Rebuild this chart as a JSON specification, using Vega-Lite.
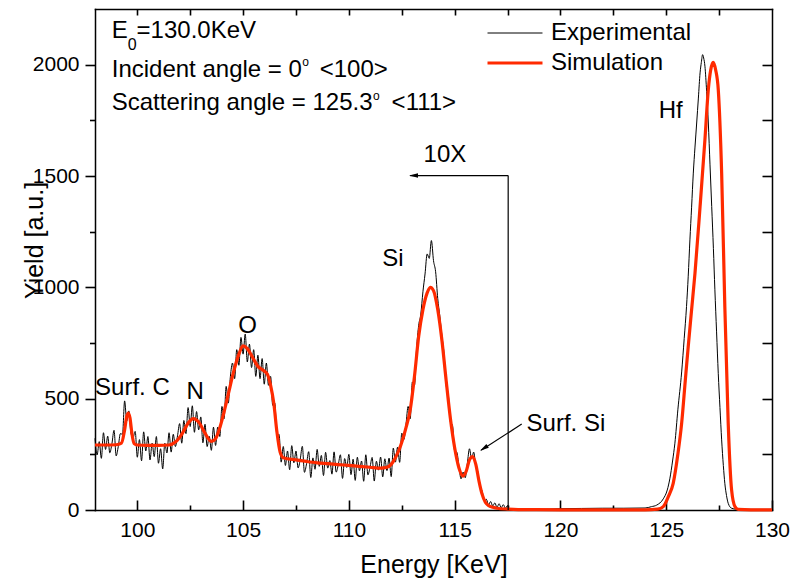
{
  "$schema": "https://vega.github.io/schema/vega-lite/v6.json",
  "width": 677,
  "height": 501,
  "autosize": {"type": "none"},
  "padding": {"left": 95, "top": 9, "right": 29, "bottom": 74},
  "background": "white",
  "config": {
    "view": {"stroke": null},
    "font": "Liberation Sans",
    "axis": {"grid": false, "domainColor": "black", "tickColor": "black", "labelColor": "black", "titleColor": "black", "domainWidth": 1.5, "tickWidth": 1.6, "domainCap": "square", "labelFontSize": 21, "titleFontSize": 25, "titleFontWeight": "normal", "labelFlush": false, "labelOverlap": false, "labelFont": "Liberation Sans", "titleFont": "Liberation Sans"},
    "text": {"font": "Liberation Sans", "color": "black"}
  },
  "datasets": {
    "curves": [
      {"s":"Experimental","e":98.0,"y":322},{"s":"Experimental","e":98.1,"y":247},{"s":"Experimental","e":98.2,"y":307},{"s":"Experimental","e":98.3,"y":232},{"s":"Experimental","e":98.4,"y":347},{"s":"Experimental","e":98.5,"y":272},{"s":"Experimental","e":98.6,"y":332},{"s":"Experimental","e":98.7,"y":257},{"s":"Experimental","e":98.8,"y":298},{"s":"Experimental","e":98.9,"y":358},
      {"s":"Experimental","e":99.0,"y":243},{"s":"Experimental","e":99.1,"y":285},{"s":"Experimental","e":99.2,"y":343},{"s":"Experimental","e":99.3,"y":340},{"s":"Experimental","e":99.4,"y":490},{"s":"Experimental","e":99.5,"y":400},{"s":"Experimental","e":99.6,"y":445},{"s":"Experimental","e":99.7,"y":345},{"s":"Experimental","e":99.8,"y":325},{"s":"Experimental","e":99.9,"y":353},
      {"s":"Experimental","e":100.0,"y":237},{"s":"Experimental","e":100.1,"y":316},{"s":"Experimental","e":100.2,"y":221},{"s":"Experimental","e":100.3,"y":351},{"s":"Experimental","e":100.4,"y":265},{"s":"Experimental","e":100.5,"y":330},{"s":"Experimental","e":100.6,"y":225},{"s":"Experimental","e":100.7,"y":300},{"s":"Experimental","e":100.8,"y":240},{"s":"Experimental","e":100.9,"y":330},
      {"s":"Experimental","e":101.0,"y":210},{"s":"Experimental","e":101.1,"y":275},{"s":"Experimental","e":101.2,"y":185},{"s":"Experimental","e":101.3,"y":300},{"s":"Experimental","e":101.4,"y":256},{"s":"Experimental","e":101.5,"y":347},{"s":"Experimental","e":101.6,"y":260},{"s":"Experimental","e":101.7,"y":340},{"s":"Experimental","e":101.8,"y":285},{"s":"Experimental","e":101.9,"y":333},
      {"s":"Experimental","e":102.0,"y":388},{"s":"Experimental","e":102.1,"y":300},{"s":"Experimental","e":102.2,"y":402},{"s":"Experimental","e":102.3,"y":343},{"s":"Experimental","e":102.4,"y":460},{"s":"Experimental","e":102.5,"y":375},{"s":"Experimental","e":102.6,"y":468},{"s":"Experimental","e":102.7,"y":349},{"s":"Experimental","e":102.8,"y":442},{"s":"Experimental","e":102.9,"y":360},
      {"s":"Experimental","e":103.0,"y":418},{"s":"Experimental","e":103.1,"y":302},{"s":"Experimental","e":103.2,"y":385},{"s":"Experimental","e":103.3,"y":285},{"s":"Experimental","e":103.4,"y":331},{"s":"Experimental","e":103.5,"y":268},{"s":"Experimental","e":103.6,"y":372},{"s":"Experimental","e":103.7,"y":290},{"s":"Experimental","e":103.8,"y":372},{"s":"Experimental","e":103.9,"y":330},
      {"s":"Experimental","e":104.0,"y":465},{"s":"Experimental","e":104.1,"y":410},{"s":"Experimental","e":104.2,"y":555},{"s":"Experimental","e":104.3,"y":480},{"s":"Experimental","e":104.4,"y":600},{"s":"Experimental","e":104.5,"y":660},{"s":"Experimental","e":104.6,"y":590},{"s":"Experimental","e":104.7,"y":720},{"s":"Experimental","e":104.8,"y":650},{"s":"Experimental","e":104.9,"y":775},
      {"s":"Experimental","e":105.0,"y":700},{"s":"Experimental","e":105.1,"y":790},{"s":"Experimental","e":105.2,"y":665},{"s":"Experimental","e":105.3,"y":745},{"s":"Experimental","e":105.4,"y":640},{"s":"Experimental","e":105.5,"y":720},{"s":"Experimental","e":105.6,"y":600},{"s":"Experimental","e":105.7,"y":695},{"s":"Experimental","e":105.8,"y":590},{"s":"Experimental","e":105.9,"y":680},
      {"s":"Experimental","e":106.0,"y":565},{"s":"Experimental","e":106.1,"y":660},{"s":"Experimental","e":106.2,"y":560},{"s":"Experimental","e":106.3,"y":600},{"s":"Experimental","e":106.4,"y":470},{"s":"Experimental","e":106.5,"y":480},{"s":"Experimental","e":106.6,"y":330},{"s":"Experimental","e":106.7,"y":340},{"s":"Experimental","e":106.8,"y":215},{"s":"Experimental","e":106.9,"y":285},
      {"s":"Experimental","e":107.0,"y":200},{"s":"Experimental","e":107.1,"y":265},{"s":"Experimental","e":107.2,"y":181},{"s":"Experimental","e":107.3,"y":289},{"s":"Experimental","e":107.4,"y":212},{"s":"Experimental","e":107.5,"y":265},{"s":"Experimental","e":107.6,"y":189},{"s":"Experimental","e":107.7,"y":227},{"s":"Experimental","e":107.8,"y":286},{"s":"Experimental","e":107.9,"y":169},
      {"s":"Experimental","e":108.0,"y":208},{"s":"Experimental","e":108.1,"y":262},{"s":"Experimental","e":108.2,"y":146},{"s":"Experimental","e":108.3,"y":234},{"s":"Experimental","e":108.4,"y":183},{"s":"Experimental","e":108.5,"y":272},{"s":"Experimental","e":108.6,"y":196},{"s":"Experimental","e":108.7,"y":245},{"s":"Experimental","e":108.8,"y":155},{"s":"Experimental","e":108.9,"y":259},
      {"s":"Experimental","e":109.0,"y":188},{"s":"Experimental","e":109.1,"y":222},{"s":"Experimental","e":109.2,"y":161},{"s":"Experimental","e":109.3,"y":261},{"s":"Experimental","e":109.4,"y":170},{"s":"Experimental","e":109.5,"y":204},{"s":"Experimental","e":109.6,"y":248},{"s":"Experimental","e":109.7,"y":142},{"s":"Experimental","e":109.8,"y":231},{"s":"Experimental","e":109.9,"y":191},
      {"s":"Experimental","e":110.0,"y":250},{"s":"Experimental","e":110.1,"y":159},{"s":"Experimental","e":110.2,"y":228},{"s":"Experimental","e":110.3,"y":133},{"s":"Experimental","e":110.4,"y":237},{"s":"Experimental","e":110.5,"y":176},{"s":"Experimental","e":110.6,"y":220},{"s":"Experimental","e":110.7,"y":129},{"s":"Experimental","e":110.8,"y":248},{"s":"Experimental","e":110.9,"y":158},
      {"s":"Experimental","e":111.0,"y":192},{"s":"Experimental","e":111.1,"y":236},{"s":"Experimental","e":111.2,"y":130},{"s":"Experimental","e":111.3,"y":219},{"s":"Experimental","e":111.4,"y":179},{"s":"Experimental","e":111.5,"y":238},{"s":"Experimental","e":111.6,"y":149},{"s":"Experimental","e":111.7,"y":230},{"s":"Experimental","e":111.8,"y":177},{"s":"Experimental","e":111.9,"y":233},
      {"s":"Experimental","e":112.0,"y":150},{"s":"Experimental","e":112.1,"y":278},{"s":"Experimental","e":112.2,"y":215},{"s":"Experimental","e":112.3,"y":282},{"s":"Experimental","e":112.4,"y":214},{"s":"Experimental","e":112.5,"y":345},{"s":"Experimental","e":112.6,"y":317},{"s":"Experimental","e":112.7,"y":385},{"s":"Experimental","e":112.8,"y":465},{"s":"Experimental","e":112.9,"y":410},
      {"s":"Experimental","e":113.0,"y":575},{"s":"Experimental","e":113.1,"y":560},{"s":"Experimental","e":113.2,"y":725},{"s":"Experimental","e":113.3,"y":830},{"s":"Experimental","e":113.4,"y":880},{"s":"Experimental","e":113.5,"y":980},{"s":"Experimental","e":113.6,"y":1060},{"s":"Experimental","e":113.7,"y":1150},{"s":"Experimental","e":113.8,"y":1130},{"s":"Experimental","e":113.9,"y":1210},
      {"s":"Experimental","e":114.0,"y":1120},{"s":"Experimental","e":114.1,"y":1070},{"s":"Experimental","e":114.2,"y":950},{"s":"Experimental","e":114.3,"y":870},{"s":"Experimental","e":114.4,"y":780},{"s":"Experimental","e":114.5,"y":700},{"s":"Experimental","e":114.6,"y":560},{"s":"Experimental","e":114.7,"y":520},{"s":"Experimental","e":114.8,"y":395},{"s":"Experimental","e":114.9,"y":380},
      {"s":"Experimental","e":115.0,"y":265},{"s":"Experimental","e":115.1,"y":260},{"s":"Experimental","e":115.2,"y":200},{"s":"Experimental","e":115.3,"y":140},{"s":"Experimental","e":115.4,"y":170},{"s":"Experimental","e":115.5,"y":145},{"s":"Experimental","e":115.6,"y":210},{"s":"Experimental","e":115.7,"y":275},{"s":"Experimental","e":115.8,"y":230},{"s":"Experimental","e":115.9,"y":260},
      {"s":"Experimental","e":116.0,"y":195},{"s":"Experimental","e":116.1,"y":170},{"s":"Experimental","e":116.2,"y":100},{"s":"Experimental","e":116.3,"y":85},{"s":"Experimental","e":116.4,"y":40},{"s":"Experimental","e":116.5,"y":48},{"s":"Experimental","e":116.6,"y":22},{"s":"Experimental","e":116.7,"y":38},{"s":"Experimental","e":116.8,"y":18},{"s":"Experimental","e":116.9,"y":32},
      {"s":"Experimental","e":117.0,"y":12},{"s":"Experimental","e":117.1,"y":28},{"s":"Experimental","e":117.2,"y":10},{"s":"Experimental","e":117.3,"y":24},{"s":"Experimental","e":117.4,"y":8},{"s":"Experimental","e":117.5,"y":20},{"s":"Experimental","e":117.55,"y":3},
      {"s":"Experimental","e":118,"y":3},{"s":"Experimental","e":119,"y":3},{"s":"Experimental","e":120,"y":6},{"s":"Experimental","e":121,"y":7},{"s":"Experimental","e":122,"y":8},{"s":"Experimental","e":123,"y":8},{"s":"Experimental","e":124,"y":9},{"s":"Experimental","e":124.3,"y":15},{"s":"Experimental","e":124.55,"y":22},{"s":"Experimental","e":124.86,"y":50},
      {"s":"Experimental","e":125.05,"y":90},{"s":"Experimental","e":125.17,"y":140},{"s":"Experimental","e":125.3,"y":220},{"s":"Experimental","e":125.41,"y":300},{"s":"Experimental","e":125.55,"y":450},{"s":"Experimental","e":125.73,"y":620},{"s":"Experimental","e":125.85,"y":770},{"s":"Experimental","e":125.96,"y":914},{"s":"Experimental","e":126.04,"y":1050},{"s":"Experimental","e":126.12,"y":1213},
      {"s":"Experimental","e":126.2,"y":1360},{"s":"Experimental","e":126.28,"y":1513},{"s":"Experimental","e":126.36,"y":1630},{"s":"Experimental","e":126.44,"y":1738},{"s":"Experimental","e":126.52,"y":1850},{"s":"Experimental","e":126.6,"y":1963},{"s":"Experimental","e":126.66,"y":2010},{"s":"Experimental","e":126.72,"y":2045},{"s":"Experimental","e":126.77,"y":2030},{"s":"Experimental","e":126.83,"y":1993},
      {"s":"Experimental","e":126.91,"y":1880},{"s":"Experimental","e":126.99,"y":1738},{"s":"Experimental","e":127.07,"y":1550},{"s":"Experimental","e":127.15,"y":1363},{"s":"Experimental","e":127.23,"y":1175},{"s":"Experimental","e":127.3,"y":989},{"s":"Experimental","e":127.38,"y":800},{"s":"Experimental","e":127.46,"y":614},{"s":"Experimental","e":127.54,"y":460},{"s":"Experimental","e":127.62,"y":315},
      {"s":"Experimental","e":127.7,"y":200},{"s":"Experimental","e":127.77,"y":120},{"s":"Experimental","e":127.85,"y":65},{"s":"Experimental","e":127.93,"y":30},{"s":"Experimental","e":128.09,"y":8},{"s":"Experimental","e":128.3,"y":4},{"s":"Experimental","e":129,"y":3},{"s":"Experimental","e":130,"y":3},
      {"s":"Simulation","e":98.0,"y":292},{"s":"Simulation","e":98.5,"y":292},{"s":"Simulation","e":99.0,"y":293},{"s":"Simulation","e":99.25,"y":300},{"s":"Simulation","e":99.4,"y":360},{"s":"Simulation","e":99.5,"y":420},{"s":"Simulation","e":99.57,"y":435},{"s":"Simulation","e":99.65,"y":415},{"s":"Simulation","e":99.75,"y":340},{"s":"Simulation","e":99.85,"y":298},
      {"s":"Simulation","e":100.0,"y":292},{"s":"Simulation","e":100.5,"y":290},{"s":"Simulation","e":101.0,"y":290},{"s":"Simulation","e":101.5,"y":292},{"s":"Simulation","e":101.8,"y":305},{"s":"Simulation","e":102.1,"y":340},{"s":"Simulation","e":102.4,"y":390},{"s":"Simulation","e":102.65,"y":410},{"s":"Simulation","e":102.9,"y":395},{"s":"Simulation","e":103.2,"y":345},
      {"s":"Simulation","e":103.5,"y":308},{"s":"Simulation","e":103.7,"y":320},{"s":"Simulation","e":103.9,"y":370},{"s":"Simulation","e":104.1,"y":440},{"s":"Simulation","e":104.3,"y":520},{"s":"Simulation","e":104.55,"y":620},{"s":"Simulation","e":104.8,"y":700},{"s":"Simulation","e":105.0,"y":737},{"s":"Simulation","e":105.2,"y":725},{"s":"Simulation","e":105.45,"y":685},
      {"s":"Simulation","e":105.7,"y":645},{"s":"Simulation","e":105.95,"y":628},{"s":"Simulation","e":106.15,"y":610},{"s":"Simulation","e":106.3,"y":560},{"s":"Simulation","e":106.45,"y":480},{"s":"Simulation","e":106.6,"y":350},{"s":"Simulation","e":106.75,"y":260},{"s":"Simulation","e":106.9,"y":235},{"s":"Simulation","e":107.5,"y":225},{"s":"Simulation","e":108.0,"y":218},
      {"s":"Simulation","e":108.5,"y":212},{"s":"Simulation","e":109.0,"y":208},{"s":"Simulation","e":109.5,"y":204},{"s":"Simulation","e":110.0,"y":200},{"s":"Simulation","e":110.5,"y":196},{"s":"Simulation","e":111.0,"y":192},{"s":"Simulation","e":111.5,"y":188},{"s":"Simulation","e":111.8,"y":192},{"s":"Simulation","e":112.0,"y":205},{"s":"Simulation","e":112.2,"y":235},
      {"s":"Simulation","e":112.45,"y":290},{"s":"Simulation","e":112.7,"y":370},{"s":"Simulation","e":112.9,"y":450},{"s":"Simulation","e":113.1,"y":600},{"s":"Simulation","e":113.3,"y":780},{"s":"Simulation","e":113.5,"y":900},{"s":"Simulation","e":113.7,"y":975},{"s":"Simulation","e":113.85,"y":1000},{"s":"Simulation","e":114.0,"y":985},{"s":"Simulation","e":114.2,"y":900},
      {"s":"Simulation","e":114.4,"y":760},{"s":"Simulation","e":114.6,"y":580},{"s":"Simulation","e":114.8,"y":410},{"s":"Simulation","e":115.0,"y":280},{"s":"Simulation","e":115.2,"y":190},{"s":"Simulation","e":115.4,"y":152},{"s":"Simulation","e":115.55,"y":175},{"s":"Simulation","e":115.7,"y":225},{"s":"Simulation","e":115.85,"y":240},{"s":"Simulation","e":116.0,"y":205},
      {"s":"Simulation","e":116.15,"y":130},{"s":"Simulation","e":116.3,"y":70},{"s":"Simulation","e":116.45,"y":35},{"s":"Simulation","e":116.6,"y":20},{"s":"Simulation","e":116.8,"y":12},{"s":"Simulation","e":117.0,"y":8},{"s":"Simulation","e":117.5,"y":4},{"s":"Simulation","e":118.0,"y":2},{"s":"Simulation","e":120.0,"y":1},{"s":"Simulation","e":124.0,"y":1},
      {"s":"Simulation","e":124.6,"y":4},{"s":"Simulation","e":124.86,"y":15},{"s":"Simulation","e":125.1,"y":60},{"s":"Simulation","e":125.33,"y":120},{"s":"Simulation","e":125.55,"y":250},{"s":"Simulation","e":125.73,"y":390},{"s":"Simulation","e":125.9,"y":580},{"s":"Simulation","e":126.04,"y":734},{"s":"Simulation","e":126.2,"y":900},{"s":"Simulation","e":126.36,"y":1064},
      {"s":"Simulation","e":126.6,"y":1363},{"s":"Simulation","e":126.83,"y":1663},{"s":"Simulation","e":126.99,"y":1888},{"s":"Simulation","e":127.1,"y":1975},{"s":"Simulation","e":127.22,"y":2010},{"s":"Simulation","e":127.34,"y":1975},{"s":"Simulation","e":127.46,"y":1888},{"s":"Simulation","e":127.62,"y":1513},{"s":"Simulation","e":127.77,"y":914},{"s":"Simulation","e":127.93,"y":390},
      {"s":"Simulation","e":128.09,"y":90},{"s":"Simulation","e":128.25,"y":15},{"s":"Simulation","e":128.4,"y":3},{"s":"Simulation","e":129.0,"y":1},{"s":"Simulation","e":130.0,"y":1}
    ],
    "lines": [
      {"x1": 117.53, "x2": 117.53, "y1": 0, "y2": 1502},
      {"x1": 112.9, "x2": 117.53, "y1": 1502, "y2": 1502},
      {"x1": 118.17, "x2": 116.25, "y1": 386, "y2": 268}
    ],
    "head1": [{"e": 113.055, "y": 1502}],
    "head2": [{"e": 116.378, "y": 277}],
    "textLeft": [
      {"e": 98.79, "y": 2120, "t": "E"},
      {"e": 99.966, "y": 2120, "t": "=130.0KeV"},
      {"e": 98.79, "y": 1946, "t": "Incident angle = 0"},
      {"e": 108.62, "y": 1946, "t": "<100>"},
      {"e": 98.79, "y": 1798, "t": "Scattering angle = 125.3"},
      {"e": 112.02, "y": 1798, "t": "<111>"},
      {"e": 118.4, "y": 355, "t": "Surf. Si"}
    ],
    "textCenter": [
      {"e": 99.77, "y": 517, "t": "Surf. C"},
      {"e": 102.73, "y": 497, "t": "N"},
      {"e": 105.21, "y": 797, "t": "O"},
      {"e": 112.08, "y": 1094, "t": "Si"},
      {"e": 125.21, "y": 1760, "t": "Hf"},
      {"e": 114.54, "y": 1565, "t": "10X"}
    ],
    "textSub": [{"e": 99.546, "y": 2067, "t": "0"}],
    "textSup": [
      {"e": 107.8, "y": 1992, "t": "o"},
      {"e": 111.14, "y": 1843, "t": "o"}
    ]
  },
  "layer": [
    {
      "data": {"name": "curves"},
      "mark": {"type": "line", "interpolate": "monotone"},
      "encoding": {
        "x": {"field": "e", "type": "quantitative", "scale": {"domain": [98, 130], "nice": false, "zero": false},
          "axis": {"orient": "bottom", "values": [100, 105, 110, 115, 120, 125, 130], "tickSize": -10, "labelPadding": 19, "title": "Energy [KeV]", "titleFontSize": 25, "titleY": 62, "titleBaseline": "alphabetic"}},
        "y": {"field": "y", "type": "quantitative", "scale": {"domain": [0, 2250], "nice": false, "zero": false},
          "axis": {"orient": "left", "values": [0, 500, 1000, 1500, 2000], "format": "d", "tickSize": 10, "labelPadding": 6, "title": "Yield [a.u.]", "titleFontSize": 25, "titleX": -61, "titleY": 231, "titleBaseline": "middle", "titleAlign": "center", "titleAngle": -90}},
        "color": {"field": "s", "type": "nominal", "scale": {"domain": ["Experimental", "Simulation"], "range": ["#000000", "#ff2a00"]},
          "legend": {"orient": "none", "legendX": 408, "legendY": 12, "title": null, "symbolType": "M-3,0H3", "symbolSize": 336, "labelFontSize": 24, "labelFont": "Liberation Sans", "labelColor": "black", "labelOffset": 24, "rowPadding": 6, "padding": 0, "labelLimit": 300}},
        "strokeWidth": {"field": "s", "type": "nominal", "scale": {"type": "ordinal", "domain": ["Experimental", "Simulation"], "range": [1, 3.2]},
          "legend": {"orient": "none", "legendX": 408, "legendY": 12, "title": null, "symbolType": "M-3,0H3", "symbolSize": 336, "labelFontSize": 24, "labelFont": "Liberation Sans", "labelColor": "black", "labelOffset": 24, "rowPadding": 6, "padding": 0, "labelLimit": 300}}
      }
    },
    {
      "data": {"name": "head1"},
      "mark": {"type": "point", "opacity": 0},
      "encoding": {
        "x": {"field": "e", "type": "quantitative", "scale": {"domain": [98, 130], "nice": false, "zero": false},
          "axis": {"orient": "bottom", "values": [102.5, 107.5, 112.5, 117.5, 122.5, 127.5], "tickSize": -5, "labels": false, "domain": false, "title": null}},
        "y": {"field": "y", "type": "quantitative", "scale": {"domain": [0, 2250], "nice": false, "zero": false},
          "axis": {"orient": "left", "values": [250, 750, 1250, 1750], "tickSize": 5.5, "labels": false, "domain": false, "title": null}}
      }
    },
    {
      "data": {"name": "head1"},
      "mark": {"type": "point", "opacity": 0},
      "encoding": {
        "x": {"field": "e", "type": "quantitative", "scale": {"domain": [98, 130], "nice": false, "zero": false},
          "axis": {"orient": "top", "values": [100, 102.5, 105, 107.5, 110, 112.5, 115, 117.5, 120, 122.5, 125, 127.5], "tickSize": -6, "labels": false, "title": null}},
        "y": {"field": "y", "type": "quantitative", "scale": {"domain": [0, 2250], "nice": false, "zero": false},
          "axis": {"orient": "right", "values": [250, 500, 750, 1000, 1250, 1500, 1750, 2000], "tickSize": -10, "labels": false, "title": null}}
      }
    },
    {
      "data": {"name": "lines"},
      "mark": {"type": "rule", "color": "black", "strokeWidth": 1.2},
      "encoding": {
        "x": {"field": "x1", "type": "quantitative", "axis": null},
        "x2": {"field": "x2"},
        "y": {"field": "y1", "type": "quantitative", "axis": null},
        "y2": {"field": "y2"}
      }
    },
    {
      "data": {"name": "head1"},
      "mark": {"type": "point", "shape": "M-1,0L1,-0.5L1,0.5Z", "size": 81, "filled": true, "color": "black", "opacity": 1},
      "encoding": {
        "x": {"field": "e", "type": "quantitative", "axis": null},
        "y": {"field": "y", "type": "quantitative", "axis": null}
      }
    },
    {
      "data": {"name": "head2"},
      "mark": {"type": "point", "shape": "M-1,0L1,-0.5L1,0.5Z", "size": 81, "filled": true, "color": "black", "opacity": 1, "angle": 327},
      "encoding": {
        "x": {"field": "e", "type": "quantitative", "axis": null},
        "y": {"field": "y", "type": "quantitative", "axis": null}
      }
    },
    {
      "data": {"name": "textLeft"},
      "mark": {"type": "text", "align": "left", "baseline": "alphabetic", "fontSize": 24},
      "encoding": {
        "x": {"field": "e", "type": "quantitative", "axis": null},
        "y": {"field": "y", "type": "quantitative", "axis": null},
        "text": {"field": "t"}
      }
    },
    {
      "data": {"name": "textCenter"},
      "mark": {"type": "text", "align": "center", "baseline": "alphabetic", "fontSize": 24},
      "encoding": {
        "x": {"field": "e", "type": "quantitative", "axis": null},
        "y": {"field": "y", "type": "quantitative", "axis": null},
        "text": {"field": "t"}
      }
    },
    {
      "data": {"name": "textSub"},
      "mark": {"type": "text", "align": "left", "baseline": "alphabetic", "fontSize": 16},
      "encoding": {
        "x": {"field": "e", "type": "quantitative", "axis": null},
        "y": {"field": "y", "type": "quantitative", "axis": null},
        "text": {"field": "t"}
      }
    },
    {
      "data": {"name": "textSup"},
      "mark": {"type": "text", "align": "left", "baseline": "alphabetic", "fontSize": 12},
      "encoding": {
        "x": {"field": "e", "type": "quantitative", "axis": null},
        "y": {"field": "y", "type": "quantitative", "axis": null},
        "text": {"field": "t"}
      }
    }
  ],
  "resolve": {"axis": {"x": "independent", "y": "independent"}}
}
